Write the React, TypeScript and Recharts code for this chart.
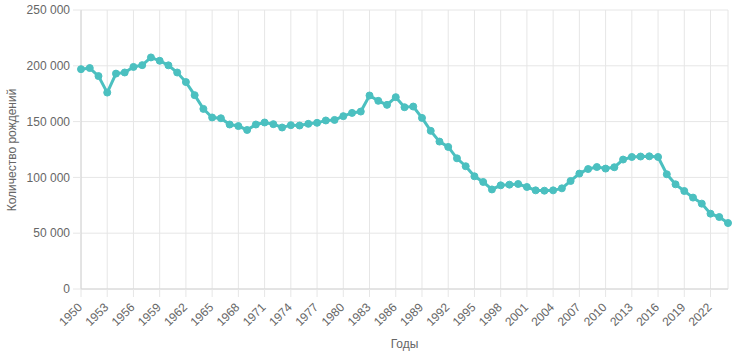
import { LineChart, Line, XAxis, YAxis, CartesianGrid } from "recharts";

const years = [
  1950, 1951, 1952, 1953, 1954, 1955, 1956, 1957, 1958, 1959,
  1960, 1961, 1962, 1963, 1964, 1965, 1966, 1967, 1968, 1969,
  1970, 1971, 1972, 1973, 1974, 1975, 1976, 1977, 1978, 1979,
  1980, 1981, 1982, 1983, 1984, 1985, 1986, 1987, 1988, 1989,
  1990, 1991, 1992, 1993, 1994, 1995, 1996, 1997, 1998, 1999,
  2000, 2001, 2002, 2003, 2004, 2005, 2006, 2007, 2008, 2009,
  2010, 2011, 2012, 2013, 2014, 2015, 2016, 2017, 2018, 2019,
  2020, 2021, 2022, 2023, 2024,
];

const births = [
  197000, 198000, 190800, 176000, 193000, 194000, 199000, 200600, 207500, 204500,
  200400, 194000, 185400, 173700, 161400, 153700, 153000, 147400, 146000, 142500,
  147400, 149200, 147700, 144700, 146800, 146500, 148000, 148900, 151000, 151500,
  154900, 157800, 159000, 173400, 168600, 165000, 171900, 162900, 163500, 153300,
  141700, 132100, 127300, 117100, 110000, 101000, 95900, 89200, 92900, 93500,
  94100, 91400, 88400, 88100, 88400, 90200, 96800, 103400, 107500, 109300,
  107900, 109100, 116000, 118300, 118700, 118900, 118300, 102800, 93800, 87800,
  81900, 76500, 67500, 64500, 59100,
];

const xTicks = [
  1950, 1953, 1956, 1959, 1962, 1965, 1968, 1971, 1974, 1977, 1980, 1983,
  1986, 1989, 1992, 1995, 1998, 2001, 2004, 2007, 2010, 2013, 2016, 2019, 2022,
];
const yTicks = [0, 50000, 100000, 150000, 200000, 250000];

const data = years.map((y, i) => ({ year: y, births: births[i] }));

const FONT = "'Liberation Sans', Arial, Helvetica, sans-serif";
const TEXT = "#666";
const GRID = "#e6e6e6";
const TEAL = "#4bc0c0";

const fmt = (v: number) => String(v).replace(/\B(?=(\d{3})+(?!\d))/g, " ");

function YearTick(props: any) {
  const { x, y, payload } = props;
  const ay = y + 6;
  return (
    <text
      x={x - 1}
      y={ay}
      dy="0.35em"
      textAnchor="end"
      transform={`rotate(-45 ${x - 1} ${ay})`}
      fill={TEXT}
      fontSize={12}
      fontFamily={FONT}
    >
      {payload.value}
    </text>
  );
}

export default function App() {
  return (
    <div style={{ position: "absolute", left: 0, top: 0 }}>
      <LineChart
        width={732}
        height={356}
        data={data}
        margin={{ top: 10, right: 4, bottom: 0, left: 0 }}
      >
        <CartesianGrid stroke={GRID} />
        <XAxis
          dataKey="year"
          type="number"
          domain={[1950, 2024]}
          ticks={xTicks}
          interval={0}
          height={67}
          tickSize={8}
          tickLine={{ stroke: GRID }}
          axisLine={{ stroke: "#d4d4d4" }}
          tick={<YearTick />}
          label={{
            value: "Годы",
            position: "insideBottom",
            offset: 8,
            fill: TEXT,
            fontSize: 12,
            fontFamily: FONT,
          }}
        />
        <YAxis
          domain={[0, 250000]}
          ticks={yTicks}
          width={81}
          tickSize={8}
          tickMargin={3}
          tickLine={{ stroke: GRID }}
          axisLine={{ stroke: "#d4d4d4" }}
          tickFormatter={fmt}
          tick={{ fill: TEXT, fontSize: 12, fontFamily: FONT }}
          label={{
            content: () => (
              <text
                x={12}
                y={150}
                transform="rotate(-90 12 150)"
                textAnchor="middle"
                dominantBaseline="central"
                fill={TEXT}
                fontSize={12}
                fontFamily={FONT}
              >
                Количество рождений
              </text>
            ),
          }}
        />
        <Line
          type="linear"
          dataKey="births"
          stroke={TEAL}
          strokeWidth={3}
          dot={{ r: 3.5, fill: TEAL, stroke: TEAL, strokeWidth: 1 }}
          isAnimationActive={false}
        />
      </LineChart>
    </div>
  );
}
